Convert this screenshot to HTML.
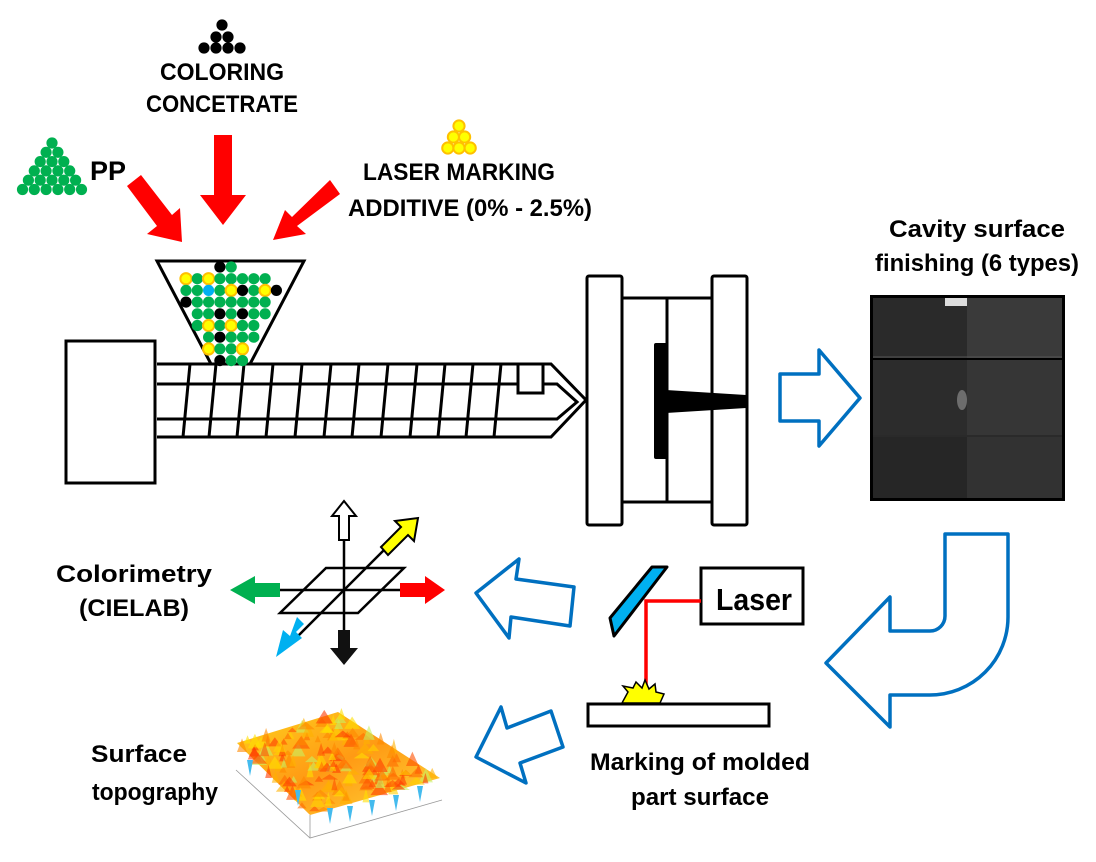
<!DOCTYPE html>
<html><head><meta charset="utf-8"><style>
html,body{margin:0;padding:0;background:#fff;}
svg{display:block;}
text{font-family:"Liberation Sans",sans-serif;font-weight:bold;fill:#000;}
</style></head><body>
<svg id="s" width="1096" height="862" viewBox="0 0 1096 862" xmlns="http://www.w3.org/2000/svg">
<defs>
<linearGradient id="topo" x1="0" y1="0" x2="1" y2="1">
<stop offset="0" stop-color="#ffd21e"/><stop offset="0.5" stop-color="#ff9a14"/><stop offset="1" stop-color="#ffd83a"/>
</linearGradient>
</defs>

<!-- top labels -->
<text x="222" y="80" font-size="24" text-anchor="middle" textLength="124" lengthAdjust="spacingAndGlyphs">COLORING</text>
<text x="222" y="112" font-size="24" text-anchor="middle" textLength="152" lengthAdjust="spacingAndGlyphs">CONCETRATE</text>
<text x="90" y="180" font-size="27" textLength="36" lengthAdjust="spacingAndGlyphs">PP</text>
<text x="459" y="180" font-size="24" text-anchor="middle" textLength="192" lengthAdjust="spacingAndGlyphs">LASER MARKING</text>
<text x="470" y="216" font-size="24" text-anchor="middle" textLength="244" lengthAdjust="spacingAndGlyphs">ADDITIVE (0% - 2.5%)</text>
<text x="977" y="237" font-size="24" text-anchor="middle" textLength="176" lengthAdjust="spacingAndGlyphs">Cavity surface</text>
<text x="977" y="271" font-size="24" text-anchor="middle" textLength="204" lengthAdjust="spacingAndGlyphs">finishing (6 types)</text>
<text x="134" y="582" font-size="24" text-anchor="middle" textLength="156" lengthAdjust="spacingAndGlyphs">Colorimetry</text>
<text x="134" y="616" font-size="24" text-anchor="middle" textLength="110" lengthAdjust="spacingAndGlyphs">(CIELAB)</text>
<text x="139" y="762" font-size="24" text-anchor="middle" textLength="96" lengthAdjust="spacingAndGlyphs">Surface</text>
<text x="155" y="800" font-size="24" text-anchor="middle" textLength="126" lengthAdjust="spacingAndGlyphs">topography</text>
<text x="700" y="770" font-size="24" text-anchor="middle" textLength="220" lengthAdjust="spacingAndGlyphs">Marking of molded</text>
<text x="700" y="805" font-size="24" text-anchor="middle" textLength="138" lengthAdjust="spacingAndGlyphs">part surface</text>

<!-- red arrows -->
<g fill="#ff0000">
<polygon points="214,135 232,135 232,195 246,195 223,225 200,195 214,195"/>
<polygon points="127,186 141,175 172,215 180,208 182,242 147,234 157,226"/>
<polygon points="330,180 340,194 297,226 306,234 273,240 285,210 292,217"/>
</g>

<!-- hopper -->
<polygon points="157,261 304,261 250,364 211,364" fill="#fff" stroke="#000" stroke-width="3"/>

<!-- extruder -->
<rect x="66" y="341" width="89" height="142" fill="#fff" stroke="#000" stroke-width="3"/>
<g stroke="#000" stroke-width="3" fill="none">
<polyline points="250,364 551,364 586,400 551,437 157,437"/>
<line x1="157" y1="364" x2="211" y2="364"/>
<line x1="157" y1="384" x2="518" y2="384"/>
<polyline points="543,384 557,384 577,402 557,419 157,419"/>
<polyline points="518,364 518,393 543,393 543,364"/>
<g id="flights"></g>
</g>

<g id="pellets"></g>

<!-- mold -->
<g stroke="#000" stroke-width="3" fill="#fff">
<rect x="587" y="276" width="35" height="249" rx="2"/>
<rect x="622" y="298" width="90" height="204"/>
<line x1="667" y1="298" x2="667" y2="502"/>
<rect x="712" y="276" width="35" height="249" rx="2"/>
</g>
<rect x="654" y="343" width="14" height="116" rx="2" fill="#000"/>
<polygon points="666,390 746,395 746,408 666,413" fill="#000"/>

<!-- blue arrows -->
<g fill="#fff" stroke="#0070c0" stroke-width="3.5" stroke-linejoin="round">
<polygon points="780,374 819,374 819,350 860,398 819,446 819,421 780,421"/>
<path d="M945,534 L1008,534 L1008,617 A78,78 0 0 1 930,695 L890,695 L890,727 L826,663 L890,597 L890,631 L930,631 A15,15 0 0 0 945,616 Z"/>
<polygon points="476,593 519,559 516,579 574,587 570,626 511,617 509,638"/>
<polygon points="476,757 501,707 507,728 551,711 563,747 520,763 526,783"/>
</g>

<!-- cavity photo -->
<rect x="870" y="295" width="195" height="206" fill="#000"/>
<rect x="873" y="298" width="94" height="60" fill="#2a2a2a"/>
<rect x="967" y="298" width="95" height="60" fill="#3a3a3a"/>
<rect x="873" y="360" width="94" height="75" fill="#2c2c2c"/>
<rect x="967" y="360" width="95" height="75" fill="#363636"/>
<rect x="873" y="437" width="94" height="61" fill="#262626"/>
<rect x="967" y="437" width="95" height="61" fill="#323232"/>
<g stroke="#555" stroke-width="1"><line x1="873" y1="357" x2="1062" y2="357"/><line x1="873" y1="436" x2="1062" y2="436"/></g>
<rect x="945" y="298" width="22" height="8" fill="#ddd"/>
<ellipse cx="962" cy="400" rx="5" ry="10" fill="#999" opacity="0.6"/>

<!-- colorimetry -->
<g stroke="#000" stroke-width="2.5" fill="none">
<polygon points="326,568 404,568 358,613 280,613"/>
<line x1="255" y1="590" x2="402" y2="590"/>
<line x1="344" y1="540" x2="344" y2="632"/>
<line x1="296" y1="638" x2="390" y2="544"/>
</g>
<polygon points="339,540 349,540 349,516 356,516 344,501 332,516 339,516" fill="#fff" stroke="#000" stroke-width="2"/>
<polygon points="338,630 350,630 350,648 358,648 344,665 330,648 338,648" fill="#111"/>
<polygon points="280,583 255,583 255,576 230,590 255,604 255,597 280,597" fill="#00b050"/>
<polygon points="400,583 425,583 425,576 445,590 425,604 425,597 400,597" fill="#ff0000"/>
<polygon points="381,547 401,527 395,521 418,518 414,541 408,535 388,555" fill="#ffff00" stroke="#000" stroke-width="2"/>
<polygon points="304,624 296,632 302,638 276,657 283,630 290,636 297,617" fill="#00b0f0"/>

<!-- laser -->
<rect x="701" y="568" width="102" height="56" fill="#fff" stroke="#000" stroke-width="3"/>
<text x="754" y="610" font-size="31" text-anchor="middle" textLength="76" lengthAdjust="spacingAndGlyphs">Laser</text>
<polyline points="701,601 646,601 646,692" fill="none" stroke="#ff0000" stroke-width="3.5"/>
<polygon points="652,567 667,567 614,636 610,618" fill="#00b0f0" stroke="#000" stroke-width="3" stroke-linejoin="round"/>
<polygon points="622,703 628,692 623,686 633,688 636,682 642,688 645,680 649,689 655,684 656,692 664,694 660,703" fill="#ffff00" stroke="#000" stroke-width="1.5"/>
<rect x="588" y="704" width="181" height="22" fill="#fff" stroke="#000" stroke-width="3"/>

<!-- topography -->
<g stroke="#999" stroke-width="0.8" fill="none">
<polyline points="236,770 310,838 442,800"/>
<line x1="310" y1="815" x2="310" y2="838"/>
</g>
<polygon points="237,743 338,712 440,778 310,815" fill="url(#topo)"/>
<g id="topoNoise"></g>
</svg>
<script>
var NS="http://www.w3.org/2000/svg";
function el(p,t,a){var e=document.createElementNS(NS,t);for(var k in a)e.setAttribute(k,a[k]);p.appendChild(e);return e;}
var pg=document.getElementById("pellets");
function pel(x,y,c){
 if(c=="G")el(pg,"circle",{cx:x,cy:y,r:5.6,fill:"#00b050"});
 else if(c=="K")el(pg,"circle",{cx:x,cy:y,r:5.6,fill:"#000"});
 else if(c=="B")el(pg,"circle",{cx:x,cy:y,r:5.6,fill:"#00b0f0"});
 else if(c=="Y"){el(pg,"circle",{cx:x,cy:y,r:5.6,fill:"#ffff00",stroke:"#ffc000","stroke-width":2});}
}
[[222,25,"K"],[216,37,"K"],[228,37,"K"],[204,48,"K"],[216,48,"K"],[228,48,"K"],[240,48,"K"]].forEach(function(p){pel(p[0],p[1],p[2]);});
for(var r=0;r<6;r++){for(var i=0;i<=r;i++){pel(52-r*5.9+i*11.8,143+r*9.3,"G");}}
for(var r=0;r<3;r++){for(var i=0;i<=r;i++){pel(459-r*5.6+i*11.2,148-(2-r)*11,"Y");}}
var rows=["...KG....","YGYGGGGG.","GGBGYKGYK","KGGGGGGG.",".GGKGKGG.",".GYGYGG..","..GKGGG..","..YGGY...","...KGG..."];
rows.forEach(function(s,ri){for(var ci=0;ci<s.length;ci++){var c=s[ci];if(c!=".")pel(186+ci*11.3,267+ri*11.7,c);}});
var fl=document.getElementById("flights");
[190,216,244,273,302,331,359,388,417,445,473,501].forEach(function(x){el(fl,"line",{x1:x,y1:364,x2:x-7,y2:437});});
var tn=document.getElementById("topoNoise");
var seed=7;function rnd(){seed=(seed*9301+49297)%233280;return seed/233280;}
function inside(x,y){var P=[[237,743],[338,712],[440,778],[310,815]];var c=false;for(var i=0,j=3;i<4;j=i++){var xi=P[i][0],yi=P[i][1],xj=P[j][0],yj=P[j][1];if(((yi>y)!=(yj>y))&&(x<(xj-xi)*(y-yi)/(yj-yi)+xi))c=!c;}return c;}
var cols=["#ff3a00","#ff6a00","#ffb000","#ffe000","#ff8800","#ffd000","#ff5000","#c8f060"];
for(var n=0;n<300;n++){var x=237+rnd()*203,y=712+rnd()*103;if(!inside(x,y))continue;var c=cols[Math.floor(rnd()*cols.length)];var w=3+rnd()*6,h=3+rnd()*7;el(tn,"polygon",{points:(x-w)+","+(y+h/2)+" "+x+","+(y-h)+" "+(x+w)+","+(y+h/2),fill:c,opacity:0.6});}
[[250,760],[298,790],[350,806],[372,800],[396,795],[420,786],[330,808]].forEach(function(p){el(tn,"polygon",{points:(p[0]-3)+","+p[1]+" "+(p[0]+3)+","+p[1]+" "+(p[0])+","+(p[1]+16),fill:"#44bbee"});});
</script>
</body></html>
